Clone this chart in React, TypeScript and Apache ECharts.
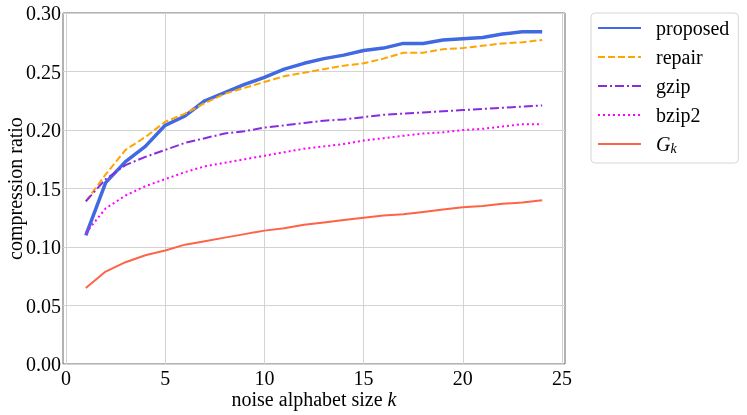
import React, { useEffect, useRef } from "react";
import * as echarts from "echarts";

const kValues = [1, 2, 3, 4, 5, 6, 7, 8, 9, 10, 11, 12, 13, 14, 15, 16, 17, 18, 19, 20, 21, 22, 23, 24];
const proposed = [0.110, 0.155, 0.173, 0.186, 0.204, 0.212, 0.225, 0.232, 0.239, 0.245, 0.252, 0.257, 0.261, 0.264, 0.268, 0.270, 0.274, 0.274, 0.277, 0.278, 0.279, 0.282, 0.284, 0.284];
const repair = [0.139, 0.162, 0.183, 0.194, 0.207, 0.214, 0.223, 0.231, 0.236, 0.241, 0.246, 0.249, 0.252, 0.255, 0.257, 0.261, 0.266, 0.266, 0.269, 0.270, 0.272, 0.274, 0.275, 0.277];
const gzip = [0.139, 0.158, 0.170, 0.177, 0.183, 0.189, 0.193, 0.197, 0.199, 0.202, 0.204, 0.206, 0.208, 0.209, 0.211, 0.213, 0.214, 0.215, 0.216, 0.217, 0.218, 0.219, 0.220, 0.221];
const bzip2 = [0.112, 0.133, 0.144, 0.152, 0.158, 0.164, 0.169, 0.172, 0.175, 0.178, 0.181, 0.184, 0.186, 0.188, 0.191, 0.193, 0.195, 0.197, 0.198, 0.200, 0.201, 0.203, 0.205, 0.205];
const gk = [0.065, 0.079, 0.087, 0.093, 0.097, 0.102, 0.105, 0.108, 0.111, 0.114, 0.116, 0.119, 0.121, 0.123, 0.125, 0.127, 0.128, 0.130, 0.132, 0.134, 0.135, 0.137, 0.138, 0.140];
const xTicks = [0, 5, 10, 15, 20, 25];

const FONT = "'Liberation Serif', 'Times New Roman', serif";

export default function App() {
  const ref = useRef<HTMLDivElement>(null);
  useEffect(() => {
    if (!ref.current) return;
    const chart = echarts.init(ref.current, undefined, { renderer: "svg" });
    const pairs = (ys: number[]) => kValues.map((k, i) => [k, ys[i]]);
    const mk = (name: string, ys: number[], color: string, width: number, type: any) => ({
      name,
      type: "line",
      data: pairs(ys),
      symbol: "none",
      showSymbol: false,
      lineStyle: { color, width, type },
      itemStyle: { color },
      z: 3,
    });
    const txt = { fontFamily: FONT, fontSize: 20, color: "#000" };
    chart.setOption({
      animation: false,
      textStyle: { fontFamily: FONT },
      grid: {
        left: 63,
        right: 182,
        top: 13,
        bottom: 51,
        outerBoundsMode: "none",
        containLabel: false,
        show: true,
        borderColor: "#666",
        borderWidth: 1,
        backgroundColor: "transparent",
      },
      xAxis: {
        type: "value",
        min: -0.15,
        max: 25.15,
        name: "{a|noise alphabet size }{k|k}",
        nameLocation: "middle",
        nameGap: 25,
        nameMoveOverlap: false,
        nameTextStyle: {
          ...txt,
          rich: {
            a: { ...txt },
            k: { ...txt, fontStyle: "italic" },
          },
        },
        axisLine: { show: false },
        axisTick: { show: false, customValues: xTicks },
        axisLabel: { ...txt, customValues: xTicks, margin: 4 },
        splitLine: { show: true, lineStyle: { color: "#d3d3d3", width: 1 } },
      },
      yAxis: {
        type: "value",
        min: 0,
        max: 0.3,
        interval: 0.05,
        name: "compression ratio",
        nameLocation: "middle",
        nameGap: 38,
        nameMoveOverlap: false,
        nameTextStyle: { ...txt },
        axisLine: { show: false },
        axisTick: { show: false },
        axisLabel: { ...txt, margin: 2, formatter: (v: number) => v.toFixed(2) },
        splitLine: { show: true, lineStyle: { color: "#d3d3d3", width: 1 } },
      },
      legend: {
        orient: "vertical",
        left: 591,
        top: 13,
        padding: [5, 9, 8, 6],
        itemWidth: 43,
        itemHeight: 14,
        itemGap: 9,
        borderColor: "#d6d6d6",
        borderWidth: 1,
        borderRadius: 4,
        backgroundColor: "#fff",
        itemStyle: { opacity: 0 },
        data: ["proposed", "repair", "gzip", "bzip2", "Gk"],
        formatter: (name: string) =>
          name === "Gk" ? "{g|G}{s|k}" : "{t|" + name + "}",
        textStyle: {
          ...txt,
          rich: {
            t: { ...txt, padding: [0, 0, 0, 10], lineHeight: 20 },
            g: { ...txt, fontStyle: "italic", padding: [0, 0, 0, 10], lineHeight: 22 },
            s: { ...txt, fontSize: 14, fontStyle: "italic", verticalAlign: "bottom", lineHeight: 14 },
          },
        },
      },
      series: [
        mk("proposed", proposed, "#4169E1", 3.5, "solid"),
        mk("repair", repair, "#FFA500", 2, [7, 3]),
        mk("gzip", gzip, "#8A2BE2", 2, [9, 3, 2, 3]),
        mk("bzip2", bzip2, "#FF00FF", 2, [2, 3]),
        mk("Gk", gk, "#FF6347", 2, "solid"),
      ],
    });
    return () => chart.dispose();
  }, []);
  return (
    <div
      ref={ref}
      style={{ position: "fixed", left: 0, top: 0, width: 747, height: 415 }}
    />
  );
}
